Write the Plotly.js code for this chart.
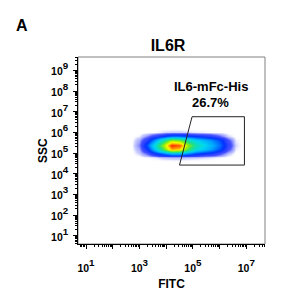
<!DOCTYPE html>
<html>
<head>
<meta charset="utf-8">
<script src="https://cdn.plot.ly/plotly-3.0.1.min.js"></script>
<style>html,body{margin:0;padding:0;background:#fff;}#chart{width:300px;height:300px;}</style>
</head>
<body>
<div id="chart"></div>
<script>
// log10(FITC) bin centres and log10(SSC) bin centres of the event-density map
var fitcLog = [2.7, 3.0, 3.3, 3.6, 3.9, 4.2, 4.5, 4.8, 5.1, 5.4, 5.7, 6.0, 6.3, 6.6, 6.9];
var sscLog = [4.6, 4.8, 5.0, 5.2, 5.4, 5.6, 5.8, 6.0, 6.2];
// relative event density (rows follow sscLog, columns follow fitcLog)
var density = [
  [0, 0, 0, 0, 0, 0, 0, 0, 0, 0, 0, 0, 0, 0, 0],
  [0, 0, 0.03, 0.06, 0.12, 0.15, 0.15, 0.12, 0.1, 0.08, 0.06, 0.03, 0, 0, 0],
  [0, 0.1, 0.4, 1.1, 1.8, 2.6, 2.6, 2, 1.4, 1.1, 0.9, 0.5, 0.15, 0, 0],
  [0, 0.2, 1, 2.8, 5, 8, 7.5, 5, 3.3, 2.7, 2.1, 1.4, 0.5, 0.05, 0],
  [0, 0.3, 1.5, 3.5, 6, 9.5, 9, 6, 4, 3.1, 2.4, 1.7, 0.7, 0.08, 0],
  [0, 0.2, 0.8, 2.2, 4, 6, 5.5, 4, 3, 2.5, 2, 1.4, 0.5, 0.05, 0],
  [0, 0.05, 0.3, 0.7, 1.1, 1.7, 1.7, 1.3, 1.1, 0.9, 0.7, 0.4, 0.1, 0, 0],
  [0, 0, 0, 0.03, 0.08, 0.1, 0.1, 0.08, 0.06, 0.05, 0.03, 0.02, 0, 0, 0],
  [0, 0, 0, 0, 0, 0, 0, 0, 0, 0, 0, 0, 0, 0, 0]
];
// gate polygon vertices (log10 units)
var gateX = [4.97, 6.93, 6.93, 4.5, 4.97];
var gateY = [6.76, 6.76, 4.42, 4.42, 6.76];
var gateName = 'IL6-mFc-His';
var gatePct = '26.7%';
// tick labels
var xTickVals = [1, 2, 3, 4, 5, 6, 7];
var xTickExp = ['1', '', '3', '', '5', '', '7'];
var yTickVals = [1, 2, 3, 4, 5, 6, 7, 8, 9];
var yTickExp = ['1', '2', '3', '4', '5', '6', '7', '8', '9'];

function pow10Label(e) {
  return e === '' ? '' : '<span style="font-size:10.5px">10</span><sup>' + e + '</sup>';
}
function minorTicks(lo, hi) {
  var out = [];
  for (var d = lo; d <= hi; d++) {
    for (var m = 2; m <= 9; m++) out.push(d + Math.log10(m));
  }
  return out;
}

var F = 'Arial, "Liberation Sans", sans-serif';

var traces = [
  {
    type: 'heatmap', x: fitcLog, y: sscLog, z: density,
    zmin: 0, zmax: 10, zsmooth: 'best', showscale: false, hoverinfo: 'skip',
    colorscale: [
      [0, 'rgba(255,255,255,0)'], [0.008, 'rgba(90,100,255,0.3)'], [0.04, 'rgba(40,50,255,0.85)'],
      [0.11, '#0030ff'], [0.22, '#00a8ff'], [0.3, '#00d8f0'], [0.45, '#20e080'], [0.6, '#a0f000'],
      [0.72, '#ffff00'], [0.85, '#ff8000'], [1, '#ff0000']
    ]
  },
  {
    type: 'scatter', mode: 'lines', x: gateX, y: gateY,
    line: {color: '#222', width: 1}, hoverinfo: 'skip', showlegend: false
  }
];

var axisCommon = {
  type: 'linear', showgrid: false, zeroline: false,
  showline: true, linecolor: '#000', linewidth: 1,
  ticks: 'outside', ticklen: 4, tickcolor: '#000', tickwidth: 1,
  tickmode: 'array',
  tickfont: {family: F, size: 14, color: '#000', weight: 'bold'}
};
var titleFont = {family: F, size: 12, color: '#000', weight: 'bold'};

var layout = {
  width: 300, height: 300,
  margin: {l: 78, r: 35, t: 57, b: 56},
  paper_bgcolor: '#fff', plot_bgcolor: '#fff',
  showlegend: false,
  title: {text: 'IL6R', x: 0.56, xanchor: 'center', y: 0.85, yanchor: 'middle',
          font: {family: F, size: 16, color: '#000', weight: 'bold'}},
  xaxis: Object.assign({}, axisCommon, {
    range: [0.7, 7.7], tickvals: xTickVals, ticktext: xTickExp.map(pow10Label),
    minor: {tickmode: 'array', tickvals: minorTicks(0, 7), ticks: 'outside', ticklen: 2, tickcolor: '#000'},
    ticklabelstandoff: 6,
    title: {text: 'FITC', standoff: 6, font: titleFont}
  }),
  yaxis: Object.assign({}, axisCommon, {
    range: [0.6, 9.65], tickvals: yTickVals, ticktext: yTickExp.map(pow10Label),
    minor: {tickmode: 'array', tickvals: minorTicks(0, 9), ticks: 'outside', ticklen: 2, tickcolor: '#000'},
    ticklabelstandoff: 2
  }),
  shapes: [
    {type: 'rect', xref: 'paper', yref: 'paper', x0: 0, y0: 0, x1: 1, y1: 1,
     line: {color: '#808080', width: 1}, layer: 'below'}
  ],
  annotations: [
    {text: 'A', xref: 'paper', yref: 'paper', x: -0.3, y: 1.17, xanchor: 'center', yanchor: 'middle',
     showarrow: false, font: {family: F, size: 16, color: '#000', weight: 'bold'}},
    {text: 'SSC', xref: 'paper', yref: 'paper', x: -0.19, y: 0.5, xanchor: 'center', yanchor: 'middle',
     textangle: -90, showarrow: false, font: titleFont},
    {text: gateName, xref: 'paper', yref: 'paper', x: 0.71, y: 0.84, xanchor: 'center', yanchor: 'middle',
     showarrow: false, font: {family: F, size: 13, color: '#000', weight: 'bold'}},
    {text: gatePct, xref: 'paper', yref: 'paper', x: 0.71, y: 0.755, xanchor: 'center', yanchor: 'middle',
     showarrow: false, font: {family: F, size: 13, color: '#000', weight: 'bold'}}
  ]
};

Plotly.newPlot('chart', traces, layout, {staticPlot: true, displayModeBar: false});
</script>
</body>
</html>
